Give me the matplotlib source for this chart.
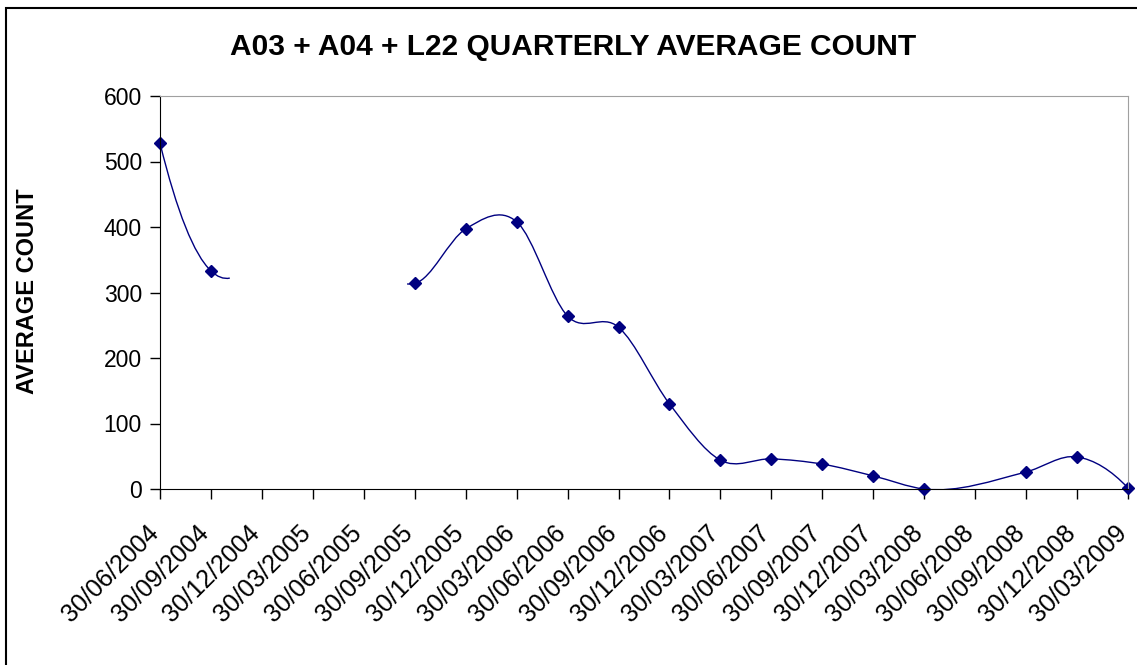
import numpy as np
import matplotlib.pyplot as plt
import matplotlib.transforms as mtransforms
from matplotlib.path import Path
from matplotlib.patches import PathPatch, Rectangle

plt.rcParams['font.family'] = ['Liberation Sans', 'DejaVu Sans']

quarters = ['30/06/2004', '30/09/2004', '30/12/2004', '30/03/2005', '30/06/2005',
            '30/09/2005', '30/12/2005', '30/03/2006', '30/06/2006', '30/09/2006',
            '30/12/2006', '30/03/2007', '30/06/2007', '30/09/2007', '30/12/2007',
            '30/03/2008', '30/06/2008', '30/09/2008', '30/12/2008', '30/03/2009']

# points with markers (quarter index, average count)
seg1_x = [0, 1]
seg1_y = [528, 333]
seg2_x = [5, 6, 7, 8, 9, 10, 11, 12, 13, 14, 15, 17, 18, 19]
seg2_y = [314, 397, 408, 264, 247, 130, 44, 46, 38, 20, 0, 26, 49, 1.5]

# line stubs seen at the gap edges (no markers)
stub1 = (1.37, 322)
stub2 = (4.85, 313)

navy = '#000080'


def smooth_path(xs, ys):
    # smoothed line: cubic Hermite pieces (Bessel slopes) drawn as Bezier curves
    x = np.array(xs, float)
    y = np.array(ys, float)
    h = np.diff(x)
    s = np.diff(y) / h
    n = len(x)
    m = np.zeros(n)
    for i in range(1, n - 1):
        m[i] = (h[i] * s[i - 1] + h[i - 1] * s[i]) / (h[i - 1] + h[i])
    m[0] = 2 * s[0] - m[1] if n > 2 else s[0]
    m[-1] = 2 * s[-1] - m[-2] if n > 2 else s[-1]
    verts = [(x[0], y[0])]
    codes = [Path.MOVETO]
    for i in range(n - 1):
        verts += [(x[i] + h[i] / 3, y[i] + m[i] * h[i] / 3),
                  (x[i + 1] - h[i] / 3, y[i + 1] - m[i + 1] * h[i] / 3),
                  (x[i + 1], y[i + 1])]
        codes += [Path.CURVE4] * 3
    return Path(verts, codes)


fig = plt.figure(figsize=(11.37, 6.65), dpi=100)
ax = fig.add_axes([160 / 1137, 1 - 489 / 665, (1128 - 160) / 1137, (489 - 96) / 665])

line1_x = seg1_x + [stub1[0]]
line1_y = seg1_y + [stub1[1]]
line2_x = [stub2[0]] + seg2_x
line2_y = [stub2[1]] + seg2_y
for lx, ly in [(line1_x, line1_y), (line2_x, line2_y)]:
    ax.add_patch(PathPatch(smooth_path(lx, ly), facecolor='none', edgecolor=navy, lw=1.0))

ax.plot(seg1_x, seg1_y, ls='none', marker='D', ms=6.3, color=navy, clip_on=False)
ax.plot(seg2_x, seg2_y, ls='none', marker='D', ms=6.3, color=navy, clip_on=False)

ax.set_xlim(0, 19)
ax.set_ylim(0, 600)
ax.set_yticks(range(0, 601, 100))
ax.set_xticks(range(len(quarters)))
ax.set_xticklabels(quarters, rotation=45, ha='right', rotation_mode='anchor')
ax.tick_params(axis='both', direction='out', length=7, width=1, color='black')
ax.tick_params(axis='y', labelsize=16.5, pad=6)
ax.tick_params(axis='x', labelsize=18, pad=16)
shift = mtransforms.ScaledTranslation(-14 / 100, 0, fig.dpi_scale_trans)
for lab in ax.get_xticklabels():
    lab.set_transform(lab.get_transform() + shift)
for s in ['top', 'right']:
    ax.spines[s].set_color('#a0a0a0')
for s in ['left', 'bottom']:
    ax.spines[s].set_color('black')

fig.text(573 / 1137, 1 - 47 / 665, 'A03 + A04 + L22 QUARTERLY AVERAGE COUNT',
         ha='center', va='center', fontsize=21.5, fontweight='bold')
fig.text(28 / 1137, 1 - 291 / 665, 'AVERAGE COUNT', rotation=90,
         ha='center', va='center', fontsize=17, fontweight='bold')

fig.patches.append(Rectangle((6 / 1137, -0.1), 1.2, 1.1 - 8 / 665, transform=fig.transFigure,
                             facecolor='none', edgecolor='black', lw=1.5))

fig.savefig('out.png', dpi=100)
